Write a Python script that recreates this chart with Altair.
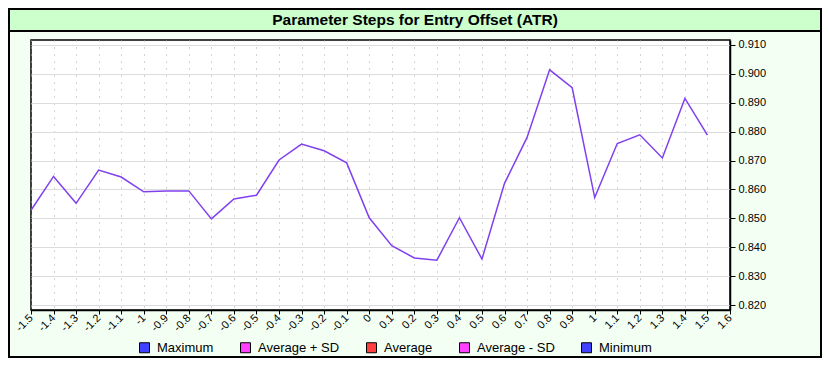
import altair as alt
import pandas as pd

TITLE = "Parameter Steps for Entry Offset (ATR)"

steps = [-1.5, -1.4, -1.3, -1.2, -1.1, -1.0, -0.9, -0.8, -0.7, -0.6, -0.5,
         -0.4, -0.3, -0.2, -0.1, 0.0, 0.1, 0.2, 0.3, 0.4, 0.5,
         0.6, 0.7, 0.8, 0.9, 1.0, 1.1, 1.2, 1.3, 1.4, 1.5]
values = [0.8528, 0.8645, 0.8552, 0.8667, 0.8643, 0.8592, 0.8595, 0.8595, 0.8498, 0.8567, 0.8580,
          0.8702, 0.8757, 0.8734, 0.8692, 0.8502, 0.8405, 0.8363, 0.8355, 0.8502, 0.8359,
          0.8621, 0.8780, 0.9014, 0.8952, 0.8572, 0.8759, 0.8789, 0.8709, 0.8915, 0.8788]

series = ["Maximum", "Average + SD", "Average", "Average - SD", "Minimum"]
series_colors = ["#4040ff", "#ff40ff", "#ff4040", "#ff40ff", "#4040ff"]

x_ticks = [-1.5, -1.4, -1.3, -1.2, -1.1, -1.0, -0.9, -0.8, -0.7, -0.6, -0.5,
           -0.4, -0.3, -0.2, -0.1, 0.0, 0.1, 0.2, 0.3, 0.4, 0.5,
           0.6, 0.7, 0.8, 0.9, 1.0, 1.1, 1.2, 1.3, 1.4, 1.5, 1.6]
y_ticks = [0.82, 0.83, 0.84, 0.85, 0.86, 0.87, 0.88, 0.89, 0.90, 0.91]

FONT = "Liberation Sans"
W, H = 699, 270
PL, PT, PR, PB = 23, 32, 92, 48
TOTW, TOTH = PL + W + PR, PT + H + PB

df = pd.DataFrame({"step": steps, "value": values})
one = pd.DataFrame({"a": [0]})

band = alt.Chart(one).mark_rect(fill="#ccffcc").encode(
    x=alt.value(-PL), x2=alt.value(TOTW - PL), y=alt.value(-PT), y2=alt.value(-PT + 22))
sep = alt.Chart(one).mark_rule(stroke="black", strokeWidth=2).encode(
    x=alt.value(-PL), x2=alt.value(TOTW - PL), y=alt.value(-PT + 23))
frame = alt.Chart(one).mark_rect(fillOpacity=0, stroke="black", strokeWidth=2).encode(
    x=alt.value(-PL + 1), x2=alt.value(TOTW - PL - 1), y=alt.value(-PT + 1), y2=alt.value(TOTH - PT - 1))

title = alt.Chart(pd.DataFrame({"t": [TITLE]})).mark_text(
    font=FONT, fontSize=15.5, fontWeight="bold", color="black", align="center", baseline="middle"
).encode(text="t:N", x=alt.value(TOTW / 2 - PL), y=alt.value(-PT + 11.5))

line = alt.Chart(df).mark_line(color="#8040ee", strokeWidth=1.5).encode(
    x=alt.X("step:Q", scale=alt.Scale(domain=[-1.5, 1.6], nice=False, zero=False),
            axis=alt.Axis(values=x_ticks, labelExpr="toString(datum.value)", labelAngle=-45,
                          labelAlign="right", labelBaseline="middle", labelPadding=2,
                          grid=True, gridColor="#a8a8a8", gridDash=[1, 6], gridWidth=1,
                          tickColor="black", tickSize=4, domainColor="black", domainWidth=1.5,
                          labelFont=FONT, labelFontSize=11, labelColor="#000000", title=None,
                          labelOverlap=False, labelFlush=False)),
    y=alt.Y("value:Q", scale=alt.Scale(domain=[0.81827, 0.91173], nice=False, zero=False),
            axis=alt.Axis(orient="right", values=y_ticks, format=".3f",
                          grid=True, gridColor="#dcdcdc", gridWidth=1,
                          tickColor="black", tickSize=5, domainColor="black", domainWidth=1.5,
                          labelPadding=3, labelFont=FONT, labelFontSize=11, labelColor="#000000",
                          title=None, labelOverlap=False, labelFlush=False)),
)

legend_layer = alt.Chart(pd.DataFrame({"series": series})).mark_square(
    size=100, opacity=1, stroke="black", strokeWidth=1
).encode(
    x=alt.value(-2000), y=alt.value(-2000),
    color=alt.Color("series:N", scale=alt.Scale(domain=series, range=series_colors),
                    legend=alt.Legend(title=None, orient="none", direction="horizontal",
                                      legendX=107, legendY=301, symbolType="square",
                                      symbolSize=100, symbolStrokeColor="black",
                                      symbolStrokeWidth=1, symbolOpacity=1,
                                      labelFont=FONT, labelFontSize=13, labelColor="black",
                                      labelOffset=6, columnPadding=24)),
)

chart = alt.layer(band, sep, line, legend_layer, title, frame).properties(
    width=W, height=H,
    autosize=alt.AutoSizeParams(type="none"),
    padding={"left": PL, "top": PT, "right": PR, "bottom": PB},
).configure(background="#f2fff2").configure_view(fill="white", stroke="black", strokeWidth=1.5)

chart.save("out.html", embed_options={"renderer": "svg", "actions": False})
